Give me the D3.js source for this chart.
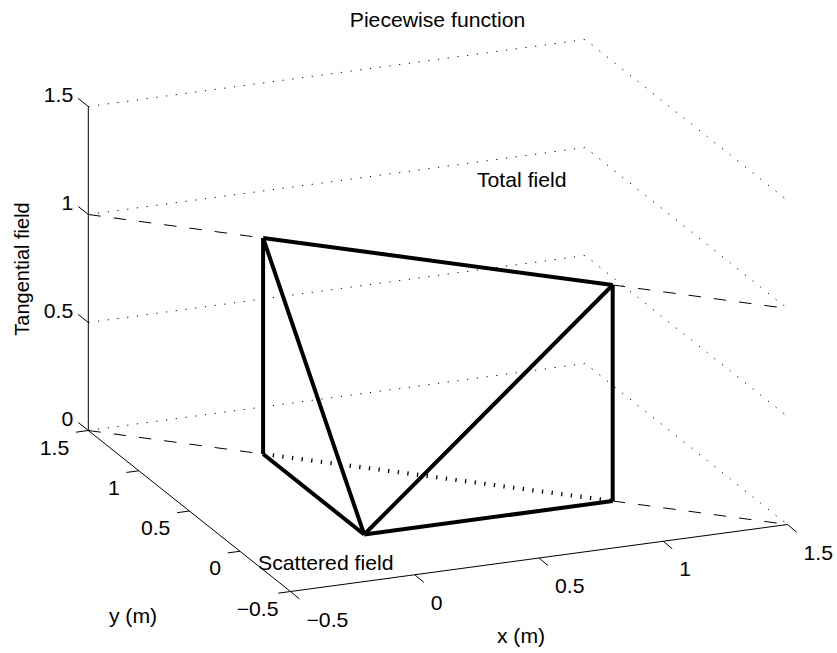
<!DOCTYPE html>
<html><head><meta charset="utf-8">
<script src="https://cdn.jsdelivr.net/npm/d3@7"></script>
<style>
html,body{margin:0;padding:0;background:#fff;}
svg{display:block;}
text{font-family:"Liberation Sans",Arial,Helvetica,sans-serif;fill:#000;}
</style></head><body>
<svg id="chart" width="837" height="653"></svg>
<script>
// ---- data ----
const nodeX = [0, 0, 1];
const nodeY = [1, 0, 0];
const nodeF = [1, 0, 1];
const baseSolidEdges = [[0, 1], [1, 2]];
const baseDottedEdges = [[0, 2]];
const surfaceEdges = [[0, 1], [1, 2], [0, 2]];
const dashLevels = [0, 1];
const dashSegX = [[-0.5, 0], [1, 1.5]];
const dashSegY = [[1.5, 1], [0, -0.5]];
const xTicks = [-0.5, 0, 0.5, 1, 1.5];
const yTicks = [-0.5, 0, 0.5, 1, 1.5];
const zTicks = [0, 0.5, 1, 1.5];
const titleText = "Piecewise function";
const xLabelText = "x (m)";
const yLabelText = "y (m)";
const zLabelText = "Tangential field";
const totalLabel = "Total field";
const scatLabel = "Scattered field";

// ---- layout ----
const F = [290.5, 591.5], R = [787.5, 524.5], L = [88.3, 430.5], H = 324;
const FS = 20, SX = 1.06;
const sx = d3.scaleLinear().domain([-0.5, 1.5]).range([0, 1]);
const sy = d3.scaleLinear().domain([-0.5, 1.5]).range([0, 1]);
const sz = d3.scaleLinear().domain([0, 1.5]).range([0, H]);
function P(x, y, z) {
  const a = sx(x), b = sy(y);
  return [F[0] + a * (R[0] - F[0]) + b * (L[0] - F[0]),
          F[1] + a * (R[1] - F[1]) + b * (L[1] - F[1]) - sz(z)];
}
const line = d3.line();
const svg = d3.select("#chart");
const fmt = v => (v < 0 ? "\u2212" : "") + Math.abs(v);

// grid (z ticks on back walls)
const gG = svg.append("g");
zTicks.forEach(z => {
  gG.append("path")
    .attr("d", line([P(-0.5, 1.5, z), P(1.5, 1.5, z), P(1.5, -0.5, z)]))
    .attr("fill", "none").attr("stroke", "#000").attr("stroke-width", 1)
    .attr("stroke-dasharray", "1.2,8.6");
});

// axes
const aG = svg.append("g").attr("stroke", "#000").attr("stroke-width", 1).attr("fill", "none");
aG.append("path").attr("d", line([P(-0.5, 1.5, 0), P(-0.5, 1.5, 1.5)]));
aG.append("path").attr("d", line([P(-0.5, 1.5, 0), P(-0.5, -0.5, 0)]));
aG.append("path").attr("d", line([P(-0.5, -0.5, 0), P(1.5, -0.5, 0)]));
zTicks.forEach(z => {
  const p = P(-0.5, 1.5, z);
  aG.append("path").attr("d", line([p, [p[0] - 10, p[1] - 8]]));
});
yTicks.forEach(y => {
  const p = P(-0.5, y, 0);
  aG.append("path").attr("d", line([p, [p[0] - 12.3, p[1] + 1.7]]));
});
xTicks.forEach(x => {
  const p = P(x, -0.5, 0);
  aG.append("path").attr("d", line([p, [p[0] + 9, p[1] + 7.5]]));
});

// tick labels
const tG = svg.append("g").attr("font-size", FS);
function txt(x, y, s, anchor, rot) {
  return tG.append("text")
    .attr("transform", `translate(${x},${y}) scale(${SX},1)` + (rot ? ` rotate(${rot})` : ""))
    .attr("text-anchor", anchor).attr("dy", "0.35em").text(s);
}
zTicks.forEach(z => { const p = P(-0.5, 1.5, z); txt(p[0] - 15, p[1] - 12, fmt(z), "end"); });
yTicks.forEach(y => { const p = P(-0.5, y, 0); txt(p[0] - 19 + (y < 0 ? 7 : 0), p[1] + 17, fmt(y), "end"); });
xTicks.forEach(x => { const p = P(x, -0.5, 0); txt(p[0] + 16, p[1] + 28, fmt(x), "start"); });

// labels
txt(437.5, 20, titleText, "middle");
txt(521, 636, xLabelText, "middle");
txt(133, 616, yLabelText, "middle");
tG.append("text").attr("transform", "translate(22,269) rotate(-90)")
  .attr("text-anchor", "middle").attr("dy", "0.35em").text(zLabelText);

// dashed extension lines
const dG = svg.append("g").attr("stroke", "#000").attr("stroke-width", 1).attr("fill", "none")
  .attr("stroke-dasharray", "12.5,13");
dashLevels.forEach(z => {
  dashSegX.forEach((xs, i) => {
    dG.append("path").attr("d", line([P(xs[0], dashSegY[i][0], z), P(xs[1], dashSegY[i][1], z)]));
  });
});

// thick data lines
const mG = svg.append("g").attr("stroke", "#000").attr("stroke-width", 4).attr("fill", "none")
  .attr("stroke-linejoin", "round");
baseSolidEdges.forEach(([i, j]) => {
  mG.append("path").attr("d", line([P(nodeX[i], nodeY[i], 0), P(nodeX[j], nodeY[j], 0)]));
});
baseDottedEdges.forEach(([i, j]) => {
  mG.append("path").attr("d", line([P(nodeX[i], nodeY[i], 0), P(nodeX[j], nodeY[j], 0)]))
    .attr("stroke-width", 4.2).attr("stroke-dasharray", "1.3,8.4");
});
surfaceEdges.forEach(([i, j]) => {
  mG.append("path").attr("d", line([P(nodeX[i], nodeY[i], nodeF[i]), P(nodeX[j], nodeY[j], nodeF[j])]));
});
nodeX.forEach((x, i) => {
  if (nodeF[i] > 0) mG.append("path").attr("d", line([P(x, nodeY[i], 0), P(x, nodeY[i], nodeF[i])]));
});

// annotations
txt(477, 180, totalLabel, "start");
txt(258, 563, scatLabel, "start");
</script>
</body></html>
